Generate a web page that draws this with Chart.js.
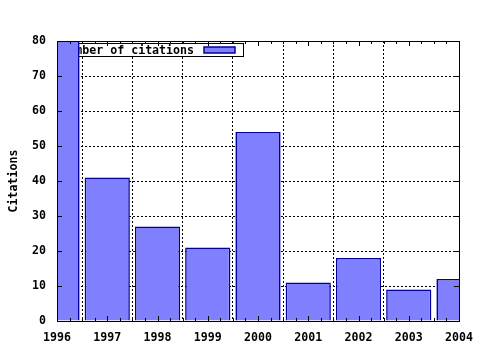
<!DOCTYPE html>
<html lang="en">
<head>
  <meta charset="UTF-8">
  <title>Citations per year</title>
  <script src="https://cdn.jsdelivr.net/npm/chart.js"></script>
  <style>
    body { margin: 0; padding: 0; background: #fff; }
    #wrap { width: 480px; height: 350px; }
  </style>
</head>
<body>
  <div id="wrap"><canvas id="chart" width="480" height="350"></canvas></div>

  <script>
    // values
    const years = [1996, 1997, 1998, 1999, 2000, 2001, 2002, 2003, 2004];
    const citations = [92, 41, 27, 21, 54, 11, 18, 9, 12];
    const yMin = 0, yMax = 80, yStep = 10;
    const seriesLabel = 'Number of citations';

    const FONT = '"DejaVu Sans Mono", "Liberation Mono", monospace';
    const FSIZE = 11.6;
    const FILL = '#8080ff';
    const EDGE = '#00009a';

    // gnuplot-ish frame, inward ticks and the key box
    const gnuplotLook = {
      id: 'gnuplotLook',
      beforeDatasetsDraw(chart) {
        const { ctx, chartArea: a } = chart;
        // key box sits under the bars (first bar covers its left part)
        ctx.save();
        const boxL = a.left + 5, boxR = a.left + 187, boxT = a.top + 2, boxB = a.top + 16;
        ctx.fillStyle = '#fff';
        ctx.fillRect(boxL, boxT, boxR - boxL, boxB - boxT);
        ctx.strokeStyle = '#000';
        ctx.lineWidth = 1;
        ctx.strokeRect(boxL + 0.5, boxT + 0.5, boxR - boxL - 1, boxB - boxT - 1);
        ctx.font = 'bold ' + FSIZE + 'px ' + FONT;
        ctx.fillStyle = '#000';
        ctx.textAlign = 'right';
        ctx.textBaseline = 'middle';
        ctx.fillText(seriesLabel, a.left + 137, (boxT + boxB) / 2 + 1);
        ctx.fillStyle = FILL;
        ctx.fillRect(a.left + 147, boxT + 4, 31, 6);
        ctx.strokeStyle = EDGE;
        ctx.lineWidth = 1.5;
        ctx.strokeRect(a.left + 147, boxT + 4, 31, 6);
        ctx.restore();
      },
      afterDatasetsDraw(chart) {
        const { ctx, chartArea: a, scales } = chart;
        ctx.save();
        ctx.strokeStyle = '#000';
        ctx.lineWidth = 1;
        ctx.beginPath();
        // x ticks, major every year, minor every quarter
        for (let v = years[0]; v <= years[years.length - 1] + 1e-6; v += 0.25) {
          const x = Math.round(scales.x.getPixelForValue(v)) + 0.5;
          const len = Math.abs(v - Math.round(v)) < 1e-6 ? 5 : 3;
          ctx.moveTo(x, a.bottom); ctx.lineTo(x, a.bottom - len);
          ctx.moveTo(x, a.top); ctx.lineTo(x, a.top + len);
        }
        for (let v = yMin; v <= yMax; v += yStep) {
          const y = Math.round(scales.y.getPixelForValue(v)) + 0.5;
          ctx.moveTo(a.left, y); ctx.lineTo(a.left + 5, y);
          ctx.moveTo(a.right, y); ctx.lineTo(a.right - 5, y);
        }
        ctx.stroke();
        ctx.strokeRect(Math.round(a.left) + 0.5, Math.round(a.top) + 0.5,
          Math.round(a.right - a.left), Math.round(a.bottom - a.top));
        ctx.restore();
      }
    };

    const edgeHidden = (min, max) => c =>
      (c.tick && (c.tick.value === min || c.tick.value === max)) ? 'rgba(0,0,0,0)' : '#000';

    new Chart(document.getElementById('chart'), {
      type: 'bar',
      data: {
        datasets: [{
          label: seriesLabel,
          data: years.map((yr, i) => ({ x: yr, y: citations[i] })),
          backgroundColor: FILL,
          borderColor: EDGE,
          borderWidth: 1.6,
          barPercentage: 0.9,
          categoryPercentage: 1,
          clip: 0
        }]
      },
      options: {
        responsive: false,
        animation: false,
        layout: { padding: { left: 0, right: 21, top: 41, bottom: 0 } },
        plugins: { legend: { display: false }, tooltip: { enabled: false } },
        scales: {
          x: {
            type: 'linear',
            min: years[0],
            max: years[years.length - 1],
            offset: false,
            afterFit: s => { s.height = 29; s.paddingLeft = 0; s.paddingRight = 0; },
            ticks: {
              stepSize: 1,
              autoSkip: false,
              maxRotation: 0,
              padding: 10,
              color: '#000',
              font: { family: FONT, size: FSIZE, weight: 'bold' },
              callback: v => String(v)
            },
            grid: { color: edgeHidden(years[0], years[years.length - 1]), drawTicks: false, lineWidth: 1 },
            border: { display: false, dash: [2, 2] }
          },
          y: {
            min: yMin,
            max: yMax,
            afterFit: s => { s.width = 57; s.paddingTop = 0; s.paddingBottom = 0; },
            ticks: {
              stepSize: yStep,
              padding: 11,
              color: '#000',
              font: { family: FONT, size: FSIZE, weight: 'bold' }
            },
            grid: { color: edgeHidden(yMin, yMax), drawTicks: false, lineWidth: 1 },
            border: { display: false, dash: [2, 2] },
            title: {
              display: true,
              text: 'Citations',
              color: '#000',
              padding: { top: 7, bottom: 0 },
              font: { family: FONT, size: FSIZE, weight: 'bold' }
            }
          }
        }
      },
      plugins: [gnuplotLook]
    });
  </script>
</body>
</html>
